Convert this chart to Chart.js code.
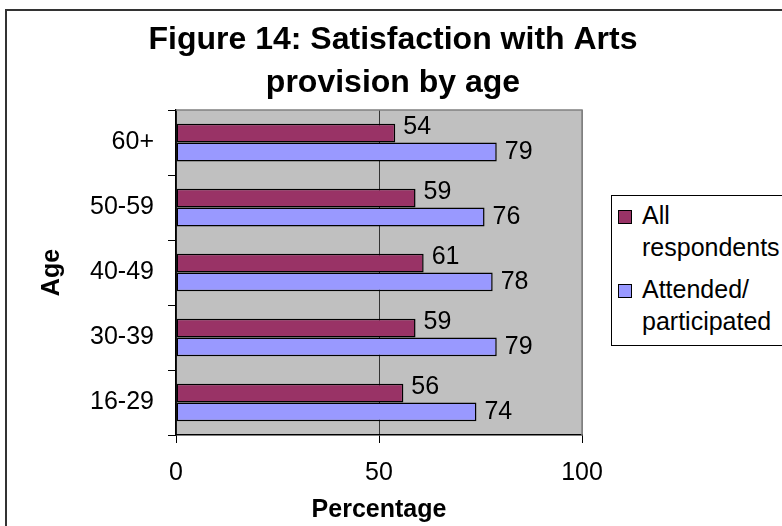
<!DOCTYPE html>
<html>
<head>
<meta charset="utf-8">
<script src="https://cdn.jsdelivr.net/npm/chart.js@4.4.1/dist/chart.umd.min.js"></script>
<style>
  html, body { margin: 0; padding: 0; background: #fff; overflow: hidden; }
  #wrap { position: relative; width: 782px; height: 526px; overflow: hidden; }
  #frame { position: absolute; left: 5px; top: 9px; width: 820px; height: 560px; border: 2px solid #333; box-sizing: border-box; }
  #chart { position: absolute; left: 0; top: 0; }
  #legend { position: absolute; left: 611px; top: 195px; width: 230px; height: 151px; border: 1px solid #000; box-sizing: border-box; background: #fff;
            font-family: 'Liberation Sans', Arial, sans-serif; font-size: 25px; line-height: 32px; padding-top: 3px; color: #000; }
  .item { position: relative; padding-left: 30px; margin-bottom: 10px; }
  .box { position: absolute; left: 6px; top: 11px; width: 12px; height: 12px; border: 1.5px solid #000; }
</style>
</head>
<body>
<div id="wrap">
  <div id="frame"></div>
  <canvas id="chart" width="782" height="526"></canvas>
  <div id="legend"></div>
</div>
<script>
const ages = ["60+", "50-59", "40-49", "30-39", "16-29"];
const allRespondents = [54, 59, 61, 59, 56];
const attended = [79, 76, 78, 79, 74];
const seriesNames = ["All respondents", "Attended/ participated"];
const seriesColors = ["#993366", "#9999FF"];
const xTicks = [0, 50, 100];

const FONT = "'Liberation Sans', Arial, sans-serif";

// grey plot area like the old Excel charts
const plotBg = {
    id: "plotBg",
    beforeDraw(chart) {
        const { ctx, chartArea: a } = chart;
        ctx.save();
        ctx.fillStyle = "#C0C0C0";
        ctx.fillRect(a.left, a.top, a.right - a.left, a.bottom - a.top);
        ctx.restore();
    },
    afterDraw(chart) {
        const { ctx, chartArea: a } = chart;
        ctx.save();
        ctx.strokeStyle = "#808080";
        ctx.lineWidth = 1.5;
        ctx.beginPath();
        ctx.moveTo(a.left, a.top);
        ctx.lineTo(a.right, a.top);
        ctx.lineTo(a.right, a.bottom);
        ctx.stroke();
        ctx.restore();
    },
};

// value next to each bar end
const valueLabels = {
    id: "valueLabels",
    afterDatasetsDraw(chart) {
        const { ctx } = chart;
        ctx.save();
        ctx.font = "25px " + FONT;
        ctx.fillStyle = "#000";
        ctx.textAlign = "left";
        ctx.textBaseline = "middle";
        chart.data.datasets.forEach((ds, i) => {
            const meta = chart.getDatasetMeta(i);
            meta.data.forEach((bar, j) => {
                const dy = i === 0 ? -6 : 0;
                ctx.fillText(String(ds.data[j]), bar.x + 8, bar.y + dy);
            });
        });
        ctx.restore();
    },
};

const chart = new Chart(document.getElementById("chart"), {
    type: "bar",
    data: {
        labels: ages,
        datasets: [
            { label: seriesNames[0], data: allRespondents, backgroundColor: seriesColors[0] },
            { label: seriesNames[1], data: attended, backgroundColor: seriesColors[1] },
        ],
    },
    options: {
        indexAxis: "y",
        responsive: false,
        animation: false,
        events: [],
        layout: { padding: { left: 4, right: 0, top: 0, bottom: 0 } },
        datasets: {
            bar: {
                barPercentage: 1,
                categoryPercentage: 0.58,
                borderColor: "#000",
                borderWidth: 1.5,
                borderSkipped: false,
            },
        },
        scales: {
            x: {
                type: "linear",
                min: 0,
                max: 100,
                afterBuildTicks: (s) => { s.ticks = xTicks.map((v) => ({ value: v })); },
                afterFit: (s) => { s.height = 91; },
                grid: {
                    color: (c) => (c.tick && c.tick.value === 100 ? "#808080" : "#333"),
                    tickColor: "#000",
                    tickLength: 8,
                    lineWidth: 1,
                },
                border: { color: "#000", width: 1.5 },
                ticks: { font: { family: FONT, size: 25 }, color: "#000", padding: 15, maxRotation: 0 },
                title: {
                    display: true,
                    text: "Percentage",
                    font: { family: FONT, size: 25, weight: "bold" },
                    color: "#000",
                    padding: { top: 0, bottom: 1 },
                },
            },
            y: {
                type: "category",
                position: "left",
                afterFit: (s) => { s.width = 172; },
                grid: { drawOnChartArea: false, offset: true, tickLength: 8, tickColor: "#000" },
                border: { color: "#000", width: 1.5 },
                ticks: { font: { family: FONT, size: 25 }, color: "#000", padding: 14 },
                title: {
                    display: true,
                    text: "Age",
                    font: { family: FONT, size: 25, weight: "bold" },
                    color: "#000",
                    padding: { top: 33, bottom: 0 },
                },
            },
            yRight: {
                type: "category",
                position: "right",
                afterFit: (s) => { s.width = 200; },
                grid: { display: false },
                border: { display: false },
                ticks: { display: false },
            },
        },
        plugins: {
            legend: { display: false },
            tooltip: { enabled: false },
            title: {
                display: true,
                text: ["Figure 14: Satisfaction with Arts", "provision by age"],
                font: { family: FONT, size: 32, weight: "bold", lineHeight: 1.36 },
                color: "#000",
                padding: { top: 18, bottom: 5 },
            },
        },
    },
    plugins: [plotBg, valueLabels],
});

// legend in html so the labels can wrap like the original
const legend = document.getElementById("legend");
chart.data.datasets.forEach((ds) => {
    const item = document.createElement("div");
    item.className = "item";
    const box = document.createElement("span");
    box.className = "box";
    box.style.background = ds.backgroundColor;
    item.appendChild(box);
    ds.label.split(" ").forEach((word, k) => {
        if (k > 0) item.appendChild(document.createElement("br"));
        item.appendChild(document.createTextNode(word));
    });
    legend.appendChild(item);
});
</script>
</body>
</html>
